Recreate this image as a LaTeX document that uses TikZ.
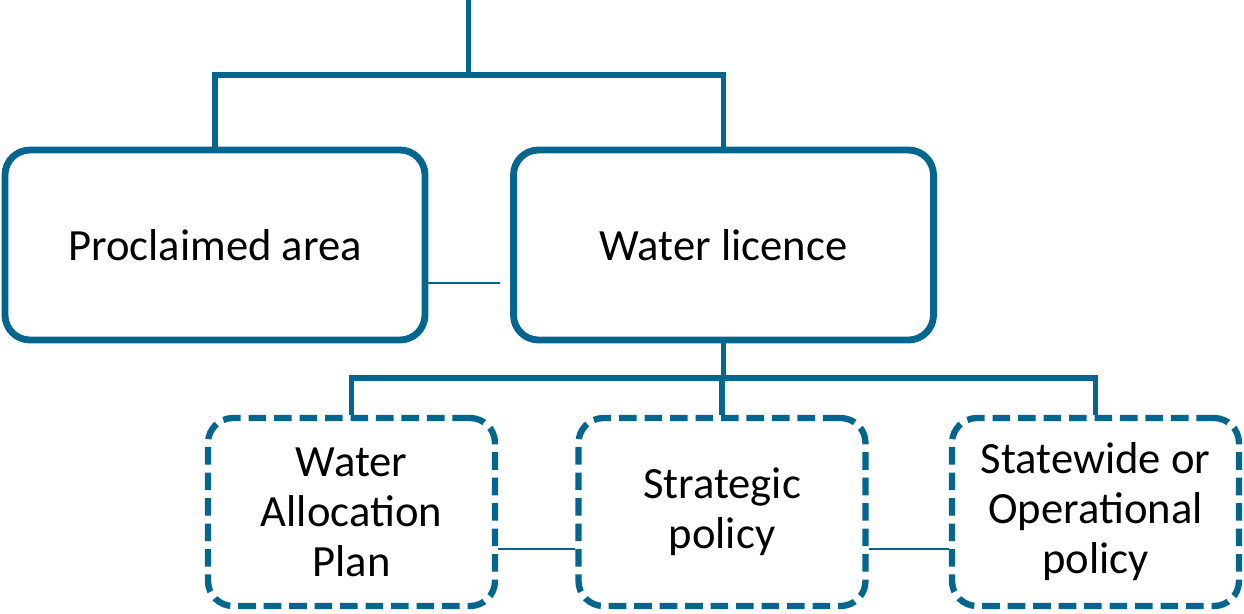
\documentclass[tikz,border=0pt]{standalone}
\usepackage{fontspec}
\setmainfont{Carlito}
\usetikzlibrary{positioning}
\definecolor{teal}{RGB}{4,102,142}

\begin{document}
\begin{tikzpicture}[
  every node/.style={font=\fontsize{25.4}{28.5}\selectfont,align=center},
  topbox/.style={draw=teal,line width=3.9pt,rounded corners=0.5cm,minimum width=8.4cm,minimum height=3.8cm},
  subbox/.style={draw=teal,line width=3.6pt,rounded corners=0.5cm,dash pattern=on 10pt off 4.5pt,minimum width=5.74cm,minimum height=3.76cm},
  branch/.style={draw=teal,line width=2.9pt},
  link/.style={draw=teal,line width=1.2pt}
  ]
\useasboundingbox (0,0) rectangle (24.88,-12.26);
\node[topbox] (proc) at (4.3,-4.9) {Proclaimed area};
\node[topbox] (lic) at (14.47,-4.9) {Water licence};
\node[subbox] (wap) at (7.03,-10.24) {Water\\Allocation\\Plan};
\node[subbox] (sp) at (14.44,-10.24) {Strategic\\policy};
\node[subbox] (sop) at (21.91,-10.24) {Statewide or\\Operational\\policy};
\coordinate (top) at (9.37,0);
\coordinate (join) at (9.37,-1.5);
\coordinate (split) at (14.47,-7.56);
\draw[branch] (top) -- (join);
\draw[branch] (join) -| (proc.north);
\draw[branch] (join) -| (lic.north);
\draw[branch] (lic.south) -- (split);
\draw[branch] (split) -| (wap.north);
\draw[branch] (split) -| (sp.north);
\draw[branch] (split) -| (sop.north);
\draw[link,shorten >=0.2cm] ([yshift=-0.76cm]proc.east) -- ([yshift=-0.76cm]lic.west);
\draw[link] ([yshift=-0.74cm]wap.east) -- ([yshift=-0.74cm]sp.west);
\draw[link] ([yshift=-0.74cm]sp.east) -- ([yshift=-0.74cm]sop.west);
\end{tikzpicture}
\end{document}
